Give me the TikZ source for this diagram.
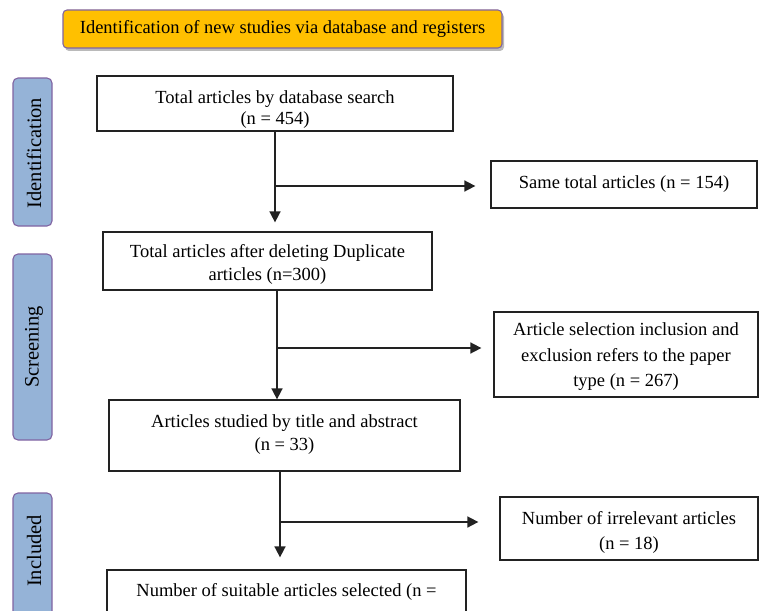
\documentclass[tikz,border=0pt]{standalone}
\usepackage{fontspec}
\setmainfont{Liberation Serif}
\usetikzlibrary{arrows.meta,shadows}
\definecolor{titleorange}{HTML}{FFC000}
\definecolor{framepurple}{HTML}{8064A2}
\definecolor{sideblue}{HTML}{95B3D7}
\definecolor{linegray}{HTML}{222222}
\begin{document}
\begin{tikzpicture}[x=1pt,y=-1pt,
  every node/.style={font=\fontsize{18.5}{22}\selectfont, inner sep=0pt},
  flowbox/.style={draw=linegray, line width=1.3pt, fill=white},
  flowtext/.style={align=center},
  sidebox/.style={draw=framepurple, line width=1.1pt, fill=sideblue, rounded corners=5pt,
    minimum width=39pt},
  sidetext/.style={font=\fontsize{20.5}{22}\selectfont, rotate=90},
  titlebox/.style={draw=framepurple, line width=1.1pt, fill=titleorange, rounded corners=4pt,
    drop shadow={shadow xshift=2pt, shadow yshift=-3pt, fill=black!45, opacity=0.6}},
  arr/.style={draw=linegray, line width=1.7pt, -{Triangle[length=11pt,width=11pt]}}]
\useasboundingbox (0,0) rectangle (759,610);
% title
\node[titlebox, minimum width=439pt, minimum height=38pt] (title) at (282.5,29)
  {Identification of new studies via database and registers};
% side labels
\node[sidebox, minimum height=148pt] (sid) at (32.5,152) {};
\node[sidetext] (sidt) at (34,153) {Identification};
\node[sidebox, minimum height=186pt] (sscr) at (32.5,347) {};
\node[sidetext] (sscrt) at (34,347) {Screening};
\node[sidebox, minimum height=150pt] (sinc) at (32.5,568) {};
\node[sidetext] (sinct) at (34,551) {Included};
% main boxes
\node[flowbox, minimum width=356pt, minimum height=55pt] (b1) at (275,103.5) {};
\node[flowtext, font=\fontsize{18.5}{21}\selectfont] (b1t) at (275,109.5)
  {Total articles by database search\\(n = 454)};
\node[flowbox, minimum width=266pt, minimum height=47pt] (same) at (624,184.5) {};
\node[flowtext] (samet) at (624,184.5) {Same total articles (n = 154)};
\node[flowbox, minimum width=329pt, minimum height=58pt] (b2) at (267.5,261) {};
\node[flowtext, font=\fontsize{18.5}{23}\selectfont] (b2t) at (267.5,264)
  {Total articles after deleting Duplicate\\articles (n=300)};
\node[flowbox, minimum width=264pt, minimum height=85pt] (sel) at (626,354.5) {};
\node[flowtext, font=\fontsize{18.5}{25.5}\selectfont] (selt) at (626,357)
  {Article selection inclusion and\\exclusion refers to the paper\\type (n = 267)};
\node[flowbox, minimum width=351pt, minimum height=71pt] (b3) at (284.5,435.5) {};
\node[flowtext, font=\fontsize{18.5}{23}\selectfont] (b3t) at (284.5,434.5)
  {Articles studied by title and abstract\\(n = 33)};
\node[flowbox, minimum width=258pt, minimum height=63pt] (irr) at (629,528.5) {};
\node[flowtext, font=\fontsize{18.5}{25}\selectfont] (irrt) at (629,532)
  {Number of irrelevant articles\\(n = 18)};
\node[flowbox, minimum width=359pt, minimum height=80pt] (b4) at (286.5,610) {};
\node[flowtext] (b4t) at (286.5,592) {Number of suitable articles selected (n =};
% connectors
\coordinate (t1) at (275,131);
\coordinate (t2) at (277,290);
\coordinate (t3) at (280,471);
\coordinate (j1) at (275,186);
\coordinate (j2) at (277,348);
\coordinate (j3) at (280,522);
\draw[arr, shorten >=9pt] (t1) -- (t1 |- b2.north);
\draw[arr] (t2) -- (t2 |- b3.north);
\draw[arr, shorten >=12pt] (t3) -- (t3 |- b4.north);
\draw[arr, shorten >=15pt] (j1) -- (j1 -| same.west);
\draw[arr, shorten >=12pt] (j2) -- (j2 -| sel.west);
\draw[arr, shorten >=21pt] (j3) -- (j3 -| irr.west);
\end{tikzpicture}
\end{document}
